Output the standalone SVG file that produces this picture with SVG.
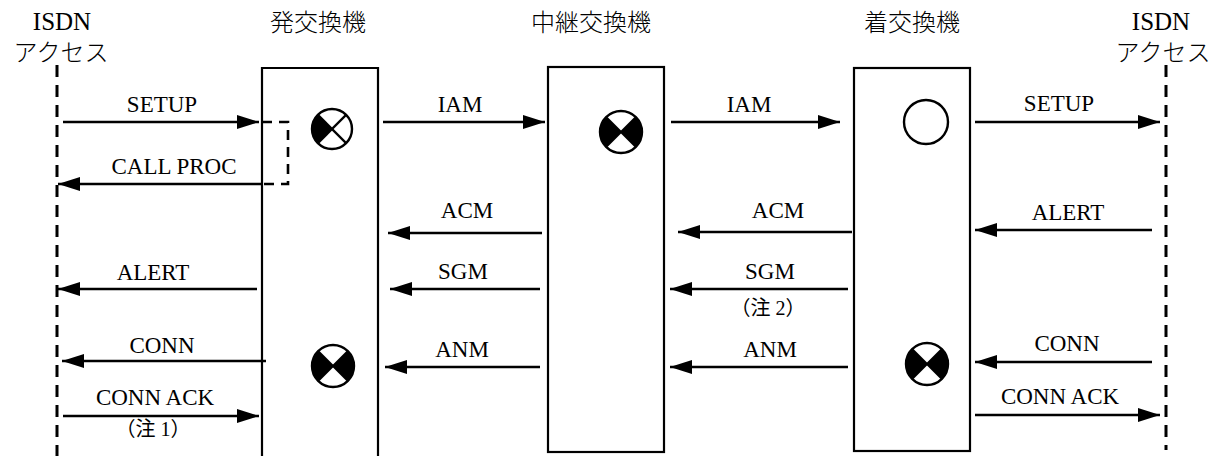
<svg xmlns="http://www.w3.org/2000/svg" width="1227" height="456" viewBox="0 0 1227 456">
<defs>
<style>
.lbl{font-family:"Liberation Serif","Noto Sans CJK JP",serif;font-size:23px;fill:#000;text-anchor:middle}
.note{font-family:"Liberation Serif","Noto Sans CJK JP",serif;font-size:20px;fill:#000;text-anchor:middle}
.hd{font-family:"Liberation Serif","Noto Sans CJK JP",serif;font-size:25px;fill:#000;text-anchor:middle}
.jp{font-family:"Noto Sans CJK JP",sans-serif;font-size:24px;font-weight:300;fill:#000;text-anchor:middle}
.box{fill:none;stroke:#000;stroke-width:2.2}
.msg{stroke:#000;stroke-width:2.6;fill:none;marker-end:url(#ah)}
.life{stroke:#000;stroke-width:3;stroke-dasharray:12 8;fill:none}
.sym{fill:#fff;stroke:#000;stroke-width:2.4}
.x{stroke:#000;stroke-width:2.2}
</style>
<marker id="ah" markerUnits="userSpaceOnUse" markerWidth="22" markerHeight="14" refX="22" refY="7" orient="auto">
<path d="M0,0 L22,7 L0,14 z" fill="#000"/>
</marker>
</defs>
<rect width="1227" height="456" fill="#fff"/>

<g id="access-left">
<text class="hd" x="62" y="30">ISDN</text>
<text class="jp" x="61" y="61">アクセス</text>
<line class="life" x1="57" y1="65" x2="57" y2="456"/>
</g>

<g id="access-right">
<text class="hd" x="1161" y="30">ISDN</text>
<text class="jp" x="1163" y="61">アクセス</text>
<line class="life" x1="1166" y1="65" x2="1166" y2="450"/>
</g>

<g id="origin-exchange">
<text class="jp" x="318" y="31">発交換機</text>
<path class="box" d="M262,460 V68 H378 V460"/>
<g id="sym-origin-top">
<circle class="sym" cx="332" cy="129" r="20"/>
<path d="M332,129 L317.9,114.9 A20,20 0 0 0 317.9,143.1 Z" fill="#000"/>
<line class="x" x1="317.9" y1="114.9" x2="346.1" y2="143.1"/>
<line class="x" x1="317.9" y1="143.1" x2="346.1" y2="114.9"/>
</g>
<g id="sym-origin-bottom">
<circle class="sym" cx="333" cy="366" r="21"/>
<path d="M333,366 L318.2,351.2 A21,21 0 0 0 318.2,380.8 Z M333,366 L347.8,351.2 A21,21 0 0 1 347.8,380.8 Z" fill="#000"/>
<line class="x" x1="318.2" y1="351.2" x2="347.8" y2="380.8"/>
<line class="x" x1="318.2" y1="380.8" x2="347.8" y2="351.2"/>
</g>
</g>

<g id="transit-exchange">
<text class="jp" x="591" y="31">中継交換機</text>
<rect class="box" x="548" y="67" width="116" height="385"/>
<g id="sym-transit">
<circle class="sym" cx="621" cy="132" r="21"/>
<path d="M621,132 L606.2,117.2 A21,21 0 0 0 606.2,146.8 Z M621,132 L635.8,117.2 A21,21 0 0 1 635.8,146.8 Z" fill="#000"/>
<line class="x" x1="606.2" y1="117.2" x2="635.8" y2="146.8"/>
<line class="x" x1="606.2" y1="146.8" x2="635.8" y2="117.2"/>
</g>
</g>

<g id="terminating-exchange">
<text class="jp" x="912" y="31">着交換機</text>
<rect class="box" x="854" y="68" width="116" height="383"/>
<circle id="sym-term-top" class="sym" cx="926" cy="122" r="22" stroke-width="2"/>
<g id="sym-term-bottom">
<circle class="sym" cx="927" cy="364" r="21"/>
<path d="M927,364 L912.2,349.2 A21,21 0 0 0 912.2,378.8 Z M927,364 L941.8,349.2 A21,21 0 0 1 941.8,378.8 Z" fill="#000"/>
<line class="x" x1="912.2" y1="349.2" x2="941.8" y2="378.8"/>
<line class="x" x1="912.2" y1="378.8" x2="941.8" y2="349.2"/>
</g>
</g>

<g id="connectors">
<path d="M262,122 H288 V184 H262" fill="none" stroke="#000" stroke-width="2.6" stroke-dasharray="10 7"/>
<line class="msg" x1="63" y1="122" x2="259" y2="122"/>
<line class="msg" x1="262" y1="184" x2="58" y2="184"/>
<line class="msg" x1="383" y1="122" x2="545" y2="122"/>
<line class="msg" x1="671" y1="122" x2="840" y2="122"/>
<line class="msg" x1="975" y1="122" x2="1160" y2="122"/>
<line class="msg" x1="542" y1="233" x2="388" y2="233"/>
<line class="msg" x1="852" y1="232" x2="678" y2="232"/>
<line class="msg" x1="1152" y1="230" x2="975" y2="230"/>
<line class="msg" x1="257" y1="289" x2="58" y2="289"/>
<line class="msg" x1="540" y1="289" x2="390" y2="289"/>
<line class="msg" x1="848" y1="289" x2="670" y2="289"/>
<line class="msg" x1="266" y1="361" x2="62" y2="361"/>
<line class="msg" x1="540" y1="367" x2="385" y2="367"/>
<line class="msg" x1="848" y1="367" x2="670" y2="367"/>
<line class="msg" x1="1152" y1="362" x2="975" y2="362"/>
<line class="msg" x1="63" y1="416" x2="259" y2="416"/>
<line class="msg" x1="975" y1="415" x2="1160" y2="415"/>
</g>

<g id="labels">
<text class="lbl" x="162" y="112">SETUP</text>
<text class="lbl" x="174" y="174">CALL PROC</text>
<text class="lbl" x="460" y="112">IAM</text>
<text class="lbl" x="749" y="112">IAM</text>
<text class="lbl" x="1059" y="111">SETUP</text>
<text class="lbl" x="467" y="218">ACM</text>
<text class="lbl" x="778" y="218">ACM</text>
<text class="lbl" x="1068" y="220">ALERT</text>
<text class="lbl" x="153" y="280">ALERT</text>
<text class="lbl" x="463" y="279">SGM</text>
<text class="lbl" x="770" y="279">SGM</text>
<text class="note" x="768" y="315">（注 2）</text>
<text class="lbl" x="162" y="353">CONN</text>
<text class="lbl" x="462" y="357">ANM</text>
<text class="lbl" x="770" y="357">ANM</text>
<text class="lbl" x="1067" y="351">CONN</text>
<text class="lbl" x="155" y="405">CONN ACK</text>
<text class="note" x="153" y="436">（注 1）</text>
<text class="lbl" x="1060" y="404">CONN ACK</text>
</g>
</svg>
